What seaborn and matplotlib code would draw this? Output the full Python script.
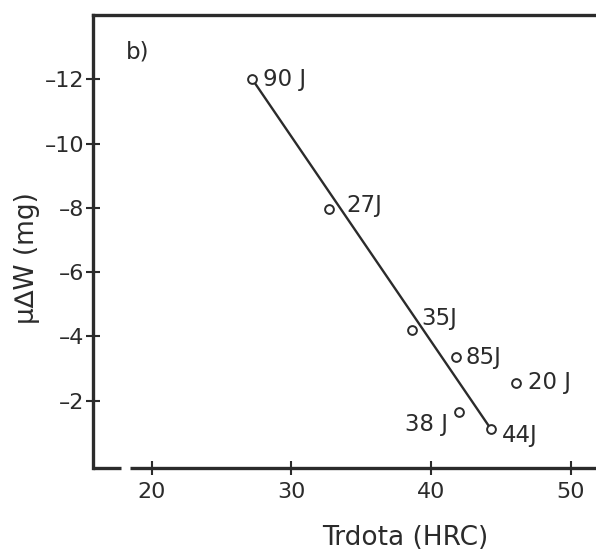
import matplotlib
matplotlib.use('Agg')
import matplotlib.pyplot as plt
import seaborn as sns
import pandas as pd

# hardness (HRC) vs mass loss, labelled by impact energy
hardness = [27.2, 32.7, 38.6, 41.8, 46.1, 42.0, 44.3]
mass_loss = [-12.0, -7.95, -4.2, -3.35, -2.55, -1.65, -1.1]
energy_labels = ['90 J', '27J', '35J', '85J', '20 J', '38 J', '44J']
# label offsets (pixels) for each point
label_dx = [11, 17, 10, 9, 12, -11, 11]
label_dy = [0, 4, 11, 0, 0, -13, -6]

# fitted line end points
fit_x = [27.2, 44.3]
fit_y = [-12.0, -1.1]

x_ticks = [20, 30, 40, 50]
y_ticks = [-12, -10, -8, -6, -4, -2]

ink = '#2b2b2b'


def main():
    sns.set_style('ticks')
    plt.rcParams['font.family'] = ['DejaVu Sans']

    fig = plt.figure(figsize=(5.96, 5.51), dpi=100)
    ax = fig.add_axes([0.156, 0.1506, 0.844, 0.8222])

    df = pd.DataFrame({'x': hardness, 'y': mass_loss, 'label': energy_labels})
    fit = pd.DataFrame({'x': fit_x, 'y': fit_y})

    sns.lineplot(data=fit, x='x', y='y', ax=ax, color=ink, lw=1.7, zorder=2)
    sns.scatterplot(data=df, x='x', y='y', ax=ax, marker='o', s=40,
                    facecolor='white', edgecolor=ink, linewidth=1.4, zorder=3)

    for i in range(len(df)):
        ha = 'left' if label_dx[i] > 0 else 'right'
        ax.annotate(energy_labels[i], (hardness[i], mass_loss[i]),
                    xytext=(label_dx[i], label_dy[i]), textcoords='offset pixels',
                    ha=ha, va='center', fontsize=16.5, color=ink)

    ax.set_xlim(15.8, 51.8)
    ax.set_ylim(0.1, -14.0)
    ax.set_xticks(x_ticks)
    ax.set_yticks(y_ticks)
    ax.set_yticklabels([str(v).replace('-', '\u2013') for v in y_ticks])

    ax.tick_params(direction='inout', length=10, width=1.5, colors=ink,
                   labelsize=16, bottom=True, left=True, top=False, right=False)
    ax.tick_params(axis='x', pad=5)
    ax.tick_params(axis='y', pad=1)

    for side in ['left', 'top']:
        ax.spines[side].set_linewidth(2.4)
        ax.spines[side].set_color(ink)
    ax.spines['right'].set_visible(False)
    ax.spines['bottom'].set_visible(False)

    # broken bottom axis
    ax.plot([0, 0.056], [0, 0], transform=ax.transAxes, color=ink, lw=2.4,
            clip_on=False, solid_capstyle='butt')
    ax.plot([0.074, 1.0], [0, 0], transform=ax.transAxes, color=ink, lw=2.4,
            clip_on=False, solid_capstyle='butt')

    ax.text(0.089, 0.918, 'b)', transform=ax.transAxes, fontsize=16.5,
            ha='center', va='center', color=ink)

    ax.set_xlabel('Trdota (HRC)', fontsize=19, color=ink)
    ax.xaxis.set_label_coords(0.62, -0.125)
    ax.set_ylabel('\u03bc\u2206W (mg)', fontsize=19, color=ink)
    ax.yaxis.set_label_coords(-0.105, 0.464)

    plt.savefig('out.png', dpi=100)


if __name__ == "__main__":
    main()
